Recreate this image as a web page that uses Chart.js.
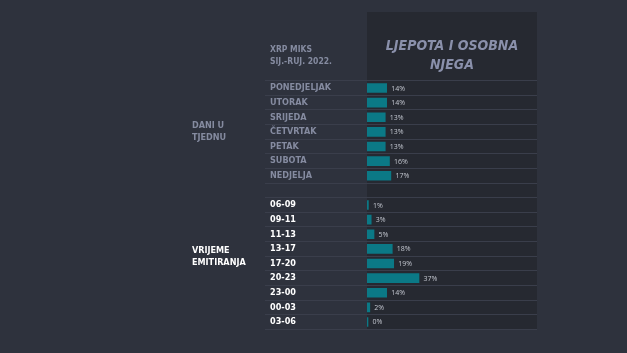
<!DOCTYPE html>
<html>
<head>
<meta charset="utf-8">
<script src="https://cdn.jsdelivr.net/npm/chart.js@4/dist/chart.umd.min.js"></script>
<style>
  html, body { margin: 0; padding: 0; background: #2e323d; }
  #wrap { width: 627px; height: 353px; }
</style>
</head>
<body>
<div id="wrap"><canvas id="mixChart"></canvas></div>
<script>
// Data
const dayLabels = ['PONEDJELJAK', 'UTORAK', 'SRIJEDA', 'ČETVRTAK', 'PETAK', 'SUBOTA', 'NEDJELJA'];
const dayValues = [14, 14, 13, 13, 13, 16, 17];
const timeLabels = ['06-09', '09-11', '11-13', '13-17', '17-20', '20-23', '23-00', '00-03', '03-06'];
const timeValues = [1, 3, 5, 18, 19, 37, 14, 2, 0];

const headerLines = ['XRP MIKS', 'SIJ.-RUJ. 2022.'];
const titleLines = ['LJEPOTA I OSOBNA', 'NJEGA'];
const dayGroup = ['DANI U', 'TJEDNU'];
const timeGroup = ['VRIJEME', 'EMITIRANJA'];

// one empty category between the two groups
const labels = [...dayLabels, '', ...timeLabels];
const values = [...dayValues, null, ...timeValues];

const gray = '#858ba0';
const white = '#ffffff';
const labelFont = '"DejaVu Sans Condensed", "Open Sans"';

const decor = {
  id: 'decor',
  beforeDraw(chart) {
    const { ctx, chartArea } = chart;
    ctx.save();
    ctx.fillStyle = '#2e323d';
    ctx.fillRect(0, 0, chart.width, chart.height);
    // dark column behind the bars
    ctx.fillStyle = '#262931';
    ctx.fillRect(chartArea.left, 12, chartArea.right - chartArea.left, chartArea.bottom - 12);
    ctx.restore();
  },
  afterDraw(chart) {
    const { ctx, chartArea } = chart;
    const y = chart.scales.y;
    ctx.save();
    ctx.textBaseline = 'middle';

    // header
    ctx.fillStyle = gray;
    ctx.font = 'bold 8.5px ' + labelFont;
    ctx.textAlign = 'left';
    ctx.fillText(headerLines[0], 270, 50);
    ctx.fillText(headerLines[1], 270, 62);

    // title in the column
    ctx.fillStyle = '#8a90ab';
    ctx.font = 'italic bold 14px "DejaVu Sans Condensed", "Open Sans"';
    ctx.textAlign = 'center';
    const cx = (chartArea.left + chartArea.right) / 2;
    ctx.fillText(titleLines[0], cx, 46);
    ctx.fillText(titleLines[1], cx, 65);

    // group labels
    ctx.font = 'bold 9px ' + labelFont;
    ctx.textAlign = 'left';
    const dMid = (y.getPixelForValue(2) + y.getPixelForValue(3)) / 2 + 7;
    ctx.fillStyle = gray;
    ctx.fillText(dayGroup[0], 192, dMid - 6);
    ctx.fillText(dayGroup[1], 192, dMid + 6);
    const tMid = (y.getPixelForValue(11) + y.getPixelForValue(12)) / 2;
    ctx.fillStyle = white;
    ctx.fillText(timeGroup[0], 192, tMid - 6);
    ctx.fillText(timeGroup[1], 192, tMid + 6);

    // value labels
    ctx.fillStyle = '#c2c6cf';
    ctx.font = '7px "Open Sans"';
    const meta = chart.getDatasetMeta(0);
    meta.data.forEach((bar, i) => {
      const v = values[i];
      if (v === null) return;
      ctx.fillText(v + '%', bar.x + 4.5, bar.y + 0.5);
    });
    ctx.restore();
  }
};

new Chart(document.getElementById('mixChart'), {
  type: 'bar',
  data: {
    labels: labels,
    datasets: [{
      data: values,
      backgroundColor: '#0b7986',
      barThickness: 9,
      minBarLength: 1
    }]
  },
  options: {
    indexAxis: 'y',
    responsive: true,
    maintainAspectRatio: false,
    animation: false,
    layout: { padding: { left: 270, right: 90, top: 80.7, bottom: 23.7 } },
    plugins: { legend: { display: false }, tooltip: { enabled: false } },
    scales: {
      x: {
        display: false,
        min: 0,
        max: 121
      },
      y: {
        afterFit(scale) { scale.width = 97; },
        border: { display: false },
        grid: {
          color: '#3a3e4b',
          lineWidth: 1,
          offset: true,
          tickLength: 102,
          drawOnChartArea: true
        },
        ticks: {
          crossAlign: 'far',
          padding: 0,
          autoSkip: false,
          font: { family: labelFont, weight: 'bold', size: 9 },
          color: (c) => c.index < 8 ? gray : white
        }
      }
    }
  },
  plugins: [decor]
});
</script>
</body>
</html>
